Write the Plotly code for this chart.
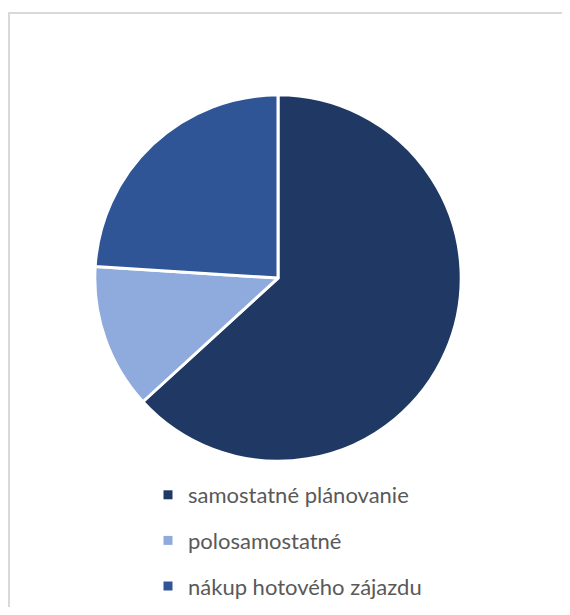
import plotly.graph_objects as go

labels = ["samostatné plánovanie", "polosamostatné", "nákup hotového zájazdu"]
values = [79, 16, 30]
colors = ["#203864", "#8faadc", "#2f5597"]

# page body has an 8px margin, so the figure is 8px smaller on each side
W, H = 562, 599

fig = go.Figure()
fig.add_trace(go.Pie(
    labels=labels, values=values, sort=False, direction="clockwise", rotation=0,
    marker=dict(colors=colors, line=dict(color="white", width=3)),
    textinfo="none", hoverinfo="label+value+percent", showlegend=False,
    domain=dict(x=[86 / W, 454 / W], y=[(H - 454) / H, (H - 87) / H]),
))
for i, (lab, col) in enumerate(zip(labels, colors)):
    fig.add_trace(go.Scatter(
        x=[None], y=[None], mode="markers", name=lab, legendgroup=f"g{i}",
        marker=dict(symbol="square", size=9, color=col),
    ))

fig.update_layout(
    width=W, height=H, margin=dict(l=0, r=0, t=0, b=0),
    paper_bgcolor="white", plot_bgcolor="white",
    xaxis=dict(visible=False), yaxis=dict(visible=False),
    legend=dict(x=140 / W, xanchor="left", y=(H - 467) / H, yanchor="top",
                font=dict(family="Lato", size=22, color="#595959"),
                tracegroupgap=14, itemwidth=30, bgcolor="rgba(0,0,0,0)"),
    shapes=[dict(type="rect", xref="paper", yref="paper",
                 x0=1 / W, x1=561 / W, y0=-0.05, y1=(H - 5) / H,
                 line=dict(color="#d9d9d9", width=2))],
)
fig.write_html("out.html")
